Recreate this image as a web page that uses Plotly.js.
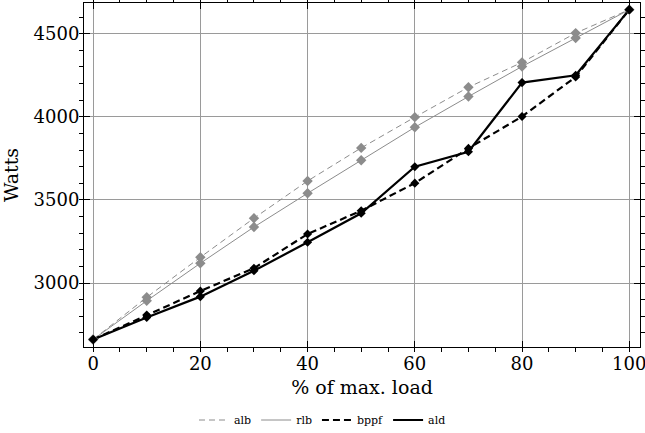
<!DOCTYPE html>
<html>
<head>
<meta charset="utf-8">
<script src="https://cdn.plot.ly/plotly-3.0.1.min.js"></script>
<style>html,body{margin:0;padding:0;background:#fff;}#chart{width:645px;height:433px;}</style>
</head>
<body>
<div id="chart"></div>
<script>
const loadPct = [0, 10, 20, 30, 40, 50, 60, 70, 80, 90, 100];
const alb  = [2660, 2914, 3155, 3390, 3614, 3813, 3998, 4178, 4328, 4504, 4645];
const rlb  = [2660, 2893, 3119, 3337, 3540, 3739, 3937, 4122, 4303, 4474, 4645];
const bppf = [2660, 2807, 2952, 3089, 3295, 3435, 3601, 3810, 4002, 4240, 4645];
const ald  = [2660, 2793, 2918, 3074, 3245, 3420, 3700, 3790, 4206, 4250, 4645];
const seriesNames = ['alb', 'rlb', 'bppf', 'ald'];

const styles = {
  alb:  {color: '#8c8c8c', width: 1, dash: '6px,4px', msize: 8},
  rlb:  {color: '#8c8c8c', width: 1, dash: 'solid', msize: 8},
  bppf: {color: '#000000', width: 2.2, dash: '7px,4px', msize: 7},
  ald:  {color: '#000000', width: 2.2, dash: 'solid', msize: 7}
};
const dataMap = {alb, rlb, bppf, ald};

const traces = [];
seriesNames.forEach(n => {
  const s = styles[n];
  traces.push({
    x: loadPct, y: dataMap[n], name: n, type: 'scatter', mode: 'lines',
    line: {color: s.color, width: s.width, dash: s.dash},
    showlegend: true, hoverinfo: 'skip'
  });
});
seriesNames.forEach(n => {
  const s = styles[n];
  traces.push({
    x: loadPct, y: dataMap[n], name: n, type: 'scatter', mode: 'markers',
    marker: {symbol: 'diamond', size: s.msize, color: s.color},
    showlegend: false
  });
});

const serif = '"DejaVu Serif"';
const axisCommon = {
  showline: true, linecolor: '#000', linewidth: 1, mirror: 'allticks',
  ticks: 'inside', ticklen: 6, tickcolor: '#000', tickwidth: 1,
  showgrid: true, gridcolor: '#9a9a9a', gridwidth: 1,
  zeroline: false, ticklabeloverflow: 'allow',
  tickfont: {family: serif, size: 18, color: '#000'}
};

const layout = {
  width: 645, height: 433,
  margin: {l: 84, r: 5, t: 3, b: 86},
  paper_bgcolor: '#fff', plot_bgcolor: '#fff',
  font: {family: serif, color: '#000'},
  xaxis: Object.assign({}, axisCommon, {
    range: [-1.7, 102], tickvals: [0, 20, 40, 60, 80, 100],
    minor: {dtick: 5, ticklen: 4, tickcolor: '#000', showgrid: false},
    title: {text: '% of max. load', font: {family: serif, size: 19}, standoff: 8}
  }),
  yaxis: Object.assign({}, axisCommon, {
    range: [2615, 4685], tickvals: [3000, 3500, 4000, 4500],
    minor: {dtick: 100, ticklen: 4, tickcolor: '#000', showgrid: false},
    title: {text: 'Watts', font: {family: serif, size: 19}, standoff: 12}
  }),
  legend: {
    orientation: 'h', x: 0.5, xanchor: 'center', xref: 'container',
    y: 0.03, yanchor: 'middle', yref: 'container',
    font: {family: serif, size: 11, color: '#000'},
    itemwidth: 30, tracegroupgap: 0, bgcolor: 'rgba(0,0,0,0)'
  },
  showlegend: true
};

Plotly.newPlot('chart', traces, layout, {displayModeBar: false, staticPlot: true});
</script>
</body>
</html>
